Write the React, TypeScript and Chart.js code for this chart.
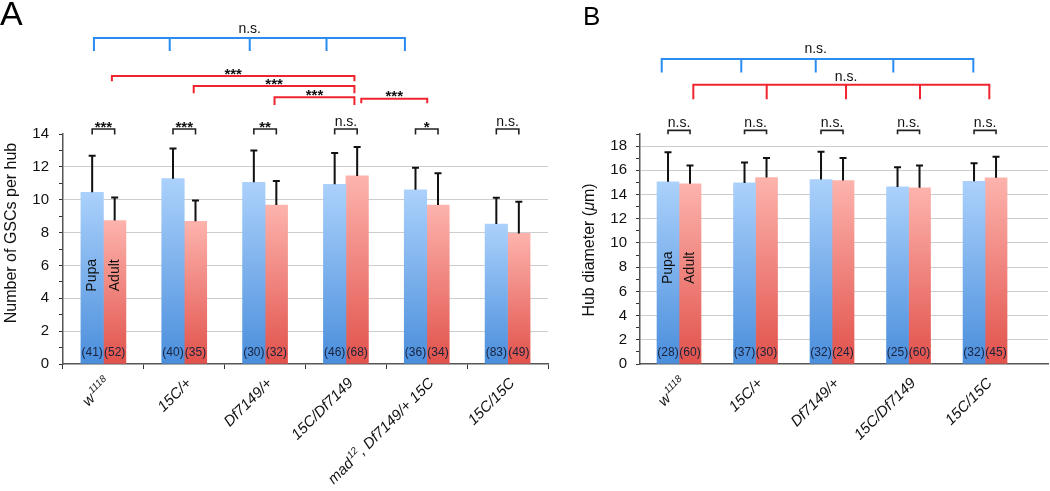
import React, { useEffect, useRef } from 'react';
import { Chart, registerables } from 'chart.js';

Chart.register(...registerables);

const FONT = "'Liberation Sans', Arial, Helvetica, sans-serif";

// ---------------- Panel A data ----------------
const categoriesA = ['w^1118', '15C/+', 'Df7149/+', '15C/Df7149', 'mad^12, Df7149/+ 15C', '15C/15C'];
const pupaA = [10.45, 11.28, 11.06, 10.94, 10.6, 8.52];
const adultA = [8.73, 8.69, 9.68, 11.45, 9.68, 7.95];
const pupaSdA = [2.23, 1.83, 1.93, 1.9, 1.35, 1.6];
const adultSdA = [1.4, 1.26, 1.46, 1.76, 1.93, 1.93];
const pupaNA = [41, 40, 30, 46, 36, 83];
const adultNA = [52, 35, 32, 68, 34, 49];
const pairSigA = ['***', '***', '**', 'n.s.', '*', 'n.s.'];
const yMaxA = 14;
const yTitleA = 'Number of GSCs per hub';

// brackets of panel A (x in category units, y in axis units)
const blueBracketA = { legs: [-0.117, 0.82, 1.81, 2.76, 3.73], y: 19.84, yLeg: 19.05, label: 'n.s.' };
const redBracketsA = [
  { legs: [0.105, 3.105], y: 17.53, yLeg: 17.21, label: '***' },
  { legs: [1.117, 3.105], y: 16.92, yLeg: 16.48, label: '***' },
  { legs: [2.117, 3.105], y: 16.23, yLeg: 15.76, label: '***' },
  { legs: [3.19, 4.006], y: 16.15, yLeg: 15.87, label: '***' },
];
const pairLevelA = { y: 14.3, yLeg: 13.97 };

// ---------------- Panel B data ----------------
const categoriesB = ['w^1118', '15C/+', 'Df7149/+', '15C/Df7149', '15C/15C'];
const positionsB = [1, 2, 3, 4, 5];
const pupaB = [15.05, 14.96, 15.24, 14.63, 15.1];
const adultB = [14.88, 15.41, 15.16, 14.55, 15.38];
const pupaSdB = [2.45, 1.69, 2.29, 1.63, 1.49];
const adultSdB = [1.52, 1.6, 1.85, 1.85, 1.74];
const pupaNB = [28, 37, 32, 25, 32];
const adultNB = [60, 30, 24, 60, 45];
const pairSigB = ['n.s.', 'n.s.', 'n.s.', 'n.s.', 'n.s.'];
const yMaxB = 19;
const xRangeB = { min: 0.49, max: 5.823 };

const blueBracketB = { legs: [0.774, 1.814, 2.787, 3.801, 4.847], y: 25.19, yLeg: 24.08, label: 'n.s.' };
const redBracketB = { legs: [1.187, 2.146, 3.183, 4.15, 5.056], y: 23.06, yLeg: 21.87, label: 'n.s.' };
const pairLevelB = { y: 19.3, yLeg: 18.97 };

// ---------------- styles ----------------
const BLUE_TOP = '#abd1fb';
const BLUE_BOTTOM = '#4a8edc';
const RED_TOP = '#fdb3ad';
const RED_BOTTOM = '#e1524b';
const BRACKET_BLUE = '#2a8cf0';
const BRACKET_RED = '#f0242e';
const TEXT = '#111111';

function gradient(top: string, bottom: string) {
  return (c: any) => {
    const chart = c.chart;
    const ys = chart.scales && chart.scales.y;
    if (!ys || c.type !== 'data' || !c.parsed) return bottom;
    const yTop = ys.getPixelForValue(c.parsed.y);
    const yBot = ys.getPixelForValue(0);
    if (!isFinite(yTop) || !isFinite(yBot) || yTop === yBot) return bottom;
    const g = chart.ctx.createLinearGradient(0, yTop, 0, yBot);
    g.addColorStop(0, top);
    g.addColorStop(1, bottom);
    return g;
  };
}

function drawRotatedLabel(ctx: CanvasRenderingContext2D, label: string, x: number, y: number) {
  const raw = label.split(/\^(\d+)/);
  const segs = raw.map((t, i) => ({ text: t, sup: i % 2 === 1 })).filter((s) => s.text !== '');
  const mainFont = `italic 15px ${FONT}`;
  const supFont = `italic 10px ${FONT}`;
  let total = 0;
  for (const s of segs) {
    ctx.font = s.sup ? supFont : mainFont;
    total += ctx.measureText(s.text).width + (s.sup ? 1 : 0);
  }
  ctx.save();
  ctx.translate(x, y);
  ctx.rotate(-Math.PI / 4);
  ctx.fillStyle = TEXT;
  ctx.textAlign = 'left';
  ctx.textBaseline = 'middle';
  let cx = -total;
  for (const s of segs) {
    ctx.font = s.sup ? supFont : mainFont;
    ctx.fillText(s.text, cx + (s.sup ? 1 : 0), s.sup ? -5 : 0);
    cx += ctx.measureText(s.text).width + (s.sup ? 1 : 0);
  }
  ctx.restore();
}

function drawSig(ctx: CanvasRenderingContext2D, text: string, x: number, lineY: number, nsOffset: number) {
  const star = text.includes('*');
  ctx.font = star ? `bold 15px ${FONT}` : `14px ${FONT}`;
  ctx.fillStyle = TEXT;
  ctx.textAlign = 'center';
  ctx.textBaseline = 'alphabetic';
  ctx.fillText(text, x, star ? lineY + 2.5 : lineY - nsOffset);
}

function drawBracket(ctx: CanvasRenderingContext2D, xs: any, ys: any, b: any, color: string, nsOffset: number) {
  const y = ys.getPixelForValue(b.y);
  const yl = ys.getPixelForValue(b.yLeg);
  const px = b.legs.map((v: number) => xs.getPixelForValue(v));
  ctx.save();
  ctx.strokeStyle = color;
  ctx.lineWidth = 2;
  ctx.lineCap = 'butt';
  ctx.beginPath();
  ctx.moveTo(px[0], yl);
  ctx.lineTo(px[0], y);
  ctx.lineTo(px[px.length - 1], y);
  ctx.lineTo(px[px.length - 1], yl);
  for (let i = 1; i < px.length - 1; i++) {
    ctx.moveTo(px[i], y);
    ctx.lineTo(px[i], yl);
  }
  ctx.stroke();
  ctx.restore();
  const lx = px.length > 2 ? px[Math.floor(px.length / 2)] : (px[0] + px[px.length - 1]) / 2;
  drawSig(ctx, b.label, lx, y, nsOffset);
}

type PanelCfg = {
  categories: string[];
  sds: number[][];
  ns: number[][];
  pairSig: string[];
  pairLevel: { y: number; yLeg: number };
  brackets: { b: any; color: string; nsOffset: number }[];
  letter: { text: string; x: number; y: number; size: number };
  yTitle: { text: string; x: number; y: number };
  seriesLabelY: number;
  labelX: (chart: any, i: number) => number;
};

function overlayPlugin(cfg: PanelCfg) {
  return {
    id: 'overlay',
    afterDatasetsDraw(chart: any) {
      const ctx: CanvasRenderingContext2D = chart.ctx;
      const ys = chart.scales.y;
      const area = chart.chartArea;
      ctx.save();
      for (let d = 0; d < 2; d++) {
        const meta = chart.getDatasetMeta(d);
        const values = chart.data.datasets[d].data;
        meta.data.forEach((bar: any, i: number) => {
          const v = typeof values[i] === 'number' ? values[i] : values[i].y;
          const top = ys.getPixelForValue(v + cfg.sds[d][i]);
          ctx.strokeStyle = '#111';
          ctx.lineWidth = 2;
          ctx.beginPath();
          ctx.moveTo(bar.x, bar.y);
          ctx.lineTo(bar.x, top);
          ctx.moveTo(bar.x - 3.5, top);
          ctx.lineTo(bar.x + 3.5, top);
          ctx.stroke();
          ctx.font = `12px ${FONT}`;
          ctx.fillStyle = '#18223c';
          ctx.textAlign = 'center';
          ctx.textBaseline = 'middle';
          ctx.fillText(`(${cfg.ns[d][i]})`, bar.x, area.bottom - 11.5);
        });
      }
      const b0 = chart.getDatasetMeta(0).data[0];
      const b1 = chart.getDatasetMeta(1).data[0];
      const ly = ys.getPixelForValue(cfg.seriesLabelY);
      ctx.font = `14px ${FONT}`;
      ctx.fillStyle = TEXT;
      ctx.textAlign = 'center';
      ctx.textBaseline = 'middle';
      [
        [b0.x, chart.data.datasets[0].label],
        [b1.x, chart.data.datasets[1].label],
      ].forEach(([x, t]: any) => {
        ctx.save();
        ctx.translate(x, ly);
        ctx.rotate(-Math.PI / 2);
        ctx.fillText(t, 0, 0);
        ctx.restore();
      });
      ctx.restore();
    },
    afterDraw(chart: any) {
      const ctx: CanvasRenderingContext2D = chart.ctx;
      const xs = chart.scales.x;
      const ys = chart.scales.y;
      const area = chart.chartArea;
      ctx.save();
      const m0 = chart.getDatasetMeta(0).data;
      const m1 = chart.getDatasetMeta(1).data;
      const py = ys.getPixelForValue(cfg.pairLevel.y);
      const pl = ys.getPixelForValue(cfg.pairLevel.yLeg);
      cfg.pairSig.forEach((s, i) => {
        const x0 = m0[i].x;
        const x1 = m1[i].x;
        ctx.strokeStyle = '#222';
        ctx.lineWidth = 1.6;
        ctx.beginPath();
        ctx.moveTo(x0, pl);
        ctx.lineTo(x0, py);
        ctx.lineTo(x1, py);
        ctx.lineTo(x1, pl);
        ctx.stroke();
        drawSig(ctx, s, (x0 + x1) / 2, py, 3.5);
      });
      cfg.brackets.forEach((g) => drawBracket(ctx, xs, ys, g.b, g.color, g.nsOffset));
      cfg.categories.forEach((c, i) => {
        drawRotatedLabel(ctx, c, cfg.labelX(chart, i) + 5, area.bottom + 17);
      });
      ctx.save();
      ctx.translate(cfg.yTitle.x, cfg.yTitle.y);
      ctx.rotate(-Math.PI / 2);
      ctx.textBaseline = 'middle';
      ctx.fillStyle = TEXT;
      const t = cfg.yTitle.text;
      const mu = t.indexOf('μ');
      const parts = mu >= 0 ? [t.slice(0, mu), 'μ', t.slice(mu + 1)] : [t];
      const fonts = parts.map((p, i) => (mu >= 0 && i === 1 ? `italic 16px ${FONT}` : `16px ${FONT}`));
      const widths = parts.map((p, i) => {
        ctx.font = fonts[i];
        return ctx.measureText(p).width;
      });
      let x = -widths.reduce((a, b) => a + b, 0) / 2;
      ctx.textAlign = 'left';
      parts.forEach((p, i) => {
        ctx.font = fonts[i];
        ctx.fillText(p, x, 0);
        x += widths[i];
      });
      ctx.restore();
      ctx.font = `${cfg.letter.size}px ${FONT}`;
      ctx.fillStyle = '#000';
      ctx.textAlign = 'left';
      ctx.textBaseline = 'alphabetic';
      ctx.fillText(cfg.letter.text, cfg.letter.x, cfg.letter.y);
      ctx.restore();
    },
  };
}

function yAxis(max: number, width: number, padding: number) {
  return {
    min: 0,
    max,
    ticks: {
      stepSize: 1,
      autoSkip: false,
      padding,
      color: TEXT,
      font: { family: FONT, size: 15 },
      callback: (v: any) => (v % 2 === 0 ? String(v) : ''),
    },
    grid: {
      color: (c: any) => (c.tick && c.tick.value % 2 === 0 && c.tick.value < max && c.tick.value > 0 ? '#cdcdcd' : 'rgba(0,0,0,0)'),
      tickColor: '#333',
      tickLength: 4,
      lineWidth: 1,
    },
    border: { color: '#555', width: 1.5 },
    afterFit: (s: any) => {
      s.width = width;
    },
  };
}

function buildA(): any {
  return {
    type: 'bar',
    data: {
      labels: categoriesA,
      datasets: [
        { label: 'Pupa', data: pupaA, backgroundColor: gradient(BLUE_TOP, BLUE_BOTTOM) },
        { label: 'Adult', data: adultA, backgroundColor: gradient(RED_TOP, RED_BOTTOM) },
      ],
    },
    options: {
      animation: false,
      responsive: false,
      maintainAspectRatio: false,
      layout: { padding: { top: 134, right: 12, left: 0, bottom: 0 } },
      datasets: { bar: { barThickness: 22.5, borderWidth: 0 } },
      plugins: { legend: { display: false }, tooltip: { enabled: false } },
      scales: {
        x: {
          ticks: { display: false },
          grid: { drawOnChartArea: false, tickLength: 5, tickColor: '#333', offset: true },
          border: { color: '#555', width: 1.5 },
          afterFit: (s: any) => {
            s.height = 127;
          },
        },
        y: yAxis(yMaxA, 63, 10),
      },
    },
    plugins: [
      overlayPlugin({
        categories: categoriesA,
        sds: [pupaSdA, adultSdA],
        ns: [pupaNA, adultNA],
        pairSig: pairSigA,
        pairLevel: pairLevelA,
        brackets: [
          { b: blueBracketA, color: BRACKET_BLUE, nsOffset: 5 },
          ...redBracketsA.map((b) => ({ b, color: BRACKET_RED, nsOffset: 5 })),
        ],
        letter: { text: 'A', x: 0, y: 25, size: 34 },
        yTitle: { text: yTitleA, x: 12, y: 233 },
        seriesLabelY: 5.4,
        labelX: (chart: any, i: number) => chart.scales.x.getPixelForValue(i),
      }),
    ],
  };
}

function buildB(): any {
  return {
    type: 'bar',
    data: {
      datasets: [
        { label: 'Pupa', data: pupaB.map((v, i) => ({ x: positionsB[i], y: v })), backgroundColor: gradient(BLUE_TOP, BLUE_BOTTOM) },
        { label: 'Adult', data: adultB.map((v, i) => ({ x: positionsB[i], y: v })), backgroundColor: gradient(RED_TOP, RED_BOTTOM) },
      ],
    },
    options: {
      animation: false,
      responsive: false,
      maintainAspectRatio: false,
      layout: { padding: { top: 134, right: 2, left: 0, bottom: 0 } },
      datasets: { bar: { barThickness: 22, borderWidth: 0 } },
      plugins: { legend: { display: false }, tooltip: { enabled: false } },
      scales: {
        x: {
          type: 'linear',
          min: xRangeB.min,
          max: xRangeB.max,
          offset: false,
          bounds: 'ticks',
          ticks: { display: false },
          grid: { drawOnChartArea: false, drawTicks: false, offset: false },
          border: { color: '#555', width: 1.5 },
          afterFit: (s: any) => {
            s.height = 127;
          },
        },
        y: yAxis(yMaxB, 80, 9),
      },
    },
    plugins: [
      overlayPlugin({
        categories: categoriesB,
        sds: [pupaSdB, adultSdB],
        ns: [pupaNB, adultNB],
        pairSig: pairSigB,
        pairLevel: pairLevelB,
        brackets: [
          { b: blueBracketB, color: BRACKET_BLUE, nsOffset: 6.5 },
          { b: redBracketB, color: BRACKET_RED, nsOffset: 4 },
        ],
        letter: { text: 'B', x: 23, y: 25, size: 26 },
        yTitle: { text: 'Hub diameter (μm)', x: 30, y: 250 },
        seriesLabelY: 7.95,
        labelX: (chart: any, i: number) => chart.scales.x.getPixelForValue(positionsB[i]),
      }),
    ],
  };
}

function ChartCanvas({ build, left, width }: { build: () => any; left: number; width: number }) {
  const ref = useRef<HTMLCanvasElement>(null);
  useEffect(() => {
    const chart = new Chart(ref.current as HTMLCanvasElement, build());
    return () => chart.destroy();
  }, []);
  return (
    <canvas
      ref={ref}
      width={width}
      height={491}
      style={{ position: 'absolute', left, top: 0, width, height: 491, display: 'block' }}
    />
  );
}

export default function App() {
  return (
    <div style={{ position: 'absolute', left: 0, top: 0, width: 1050, height: 491, background: '#fff', overflow: 'hidden' }}>
      <ChartCanvas build={buildA} left={0} width={560} />
      <ChartCanvas build={buildB} left={560} width={490} />
    </div>
  );
}
